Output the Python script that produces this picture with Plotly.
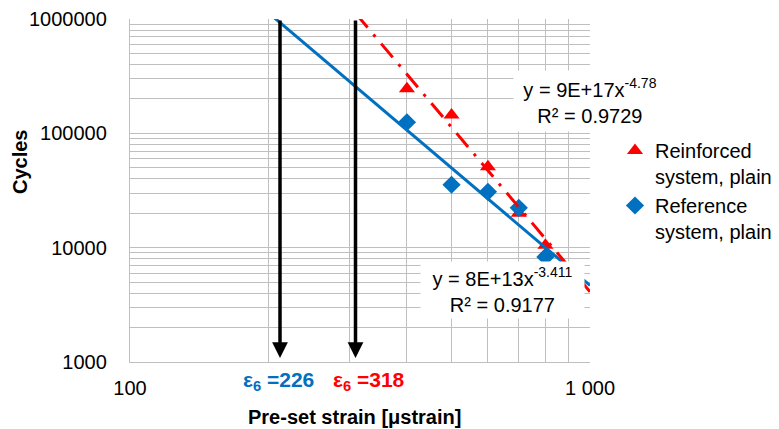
import math
import plotly.graph_objects as go

# ---- data ----
strain = [400, 500, 600, 700, 800]
cycles_reinforced = [245000, 145000, 51000, 20000, 10500]
cycles_reference = [125000, 35500, 30800, 22300, 8300]

fit_reinforced_coef, fit_reinforced_exp = 9e17, -4.78
fit_reference_coef, fit_reference_exp = 8e13, -3.411
r2_reinforced = "0.9729"
r2_reference = "0.9177"
eps6_reference = 226
eps6_reinforced = 318

series_names = ["Reinforced<br>system, plain", "Reference<br>system, plain"]

x_tickvals = [100, 200, 300, 400, 500, 600, 700, 800, 900, 1000]
x_ticktext = ["100", "", "", "", "", "", "", "", "", "1 000"]
y_tickvals = [m * 10 ** e for e in (3, 4, 5) for m in range(1, 10)] + [1000000]
y_ticktext = [(str(v) if str(v).strip("0") == "1" else "") for v in y_tickvals]

RED = "#FF0000"
BLUE = "#0070C0"
GRID = "#BFBFBF"
FONT = "Liberation Sans, Arial, sans-serif"

fit_x = [100, 1000]
fit_red = [fit_reinforced_coef * x ** fit_reinforced_exp for x in fit_x]
fit_blue = [fit_reference_coef * x ** fit_reference_exp for x in fit_x]

fig = go.Figure()
fig.add_trace(go.Scatter(x=strain, y=cycles_reinforced, mode="markers",
                         name=series_names[0],
                         marker=dict(symbol="triangle-up", size=14, color=RED)))
fig.add_trace(go.Scatter(x=strain, y=cycles_reference, mode="markers",
                         name=series_names[1],
                         marker=dict(symbol="diamond", size=14, color=BLUE)))
fig.add_trace(go.Scatter(x=fit_x, y=fit_blue, mode="lines", showlegend=False,
                         line=dict(color=BLUE, width=3)))
fig.add_trace(go.Scatter(x=fit_x, y=fit_red, mode="lines", showlegend=False,
                         line=dict(color=RED, width=3, dash="18px,9px,3px,9px")))

# page is 779x429 but the html body has an 8px margin: compensate
OFF = 8
W, H = 779 - OFF, 429 - OFF
L, T = 130 - OFF, 19 - OFF
pw, ph = 460, 343
R, B = W - L - pw, H - T - ph


def px(xp):  # page pixel -> paper x
    return (xp - OFF - L) / pw


def py(yp):  # page pixel -> paper y
    return (H - B - (yp - OFF)) / ph


def note(x, y, text, **kw):
    d = dict(xref="paper", yref="paper", x=px(x), y=py(y), text=text,
             showarrow=False, xanchor="center", yanchor="middle")
    d.update(kw)
    return d


annotations = []
# arrows
for xp in (280, 355.5):
    annotations.append(dict(xref="paper", yref="paper", axref="pixel", ayref="pixel",
                            x=px(xp), y=py(358), ax=0, ay=-(358 - 19),
                            text="", showarrow=True, arrowhead=2, arrowsize=0.9,
                            arrowwidth=3.5, arrowcolor="black", standoff=0))
# epsilon labels
annotations.append(note(278, 381, f"<b>ε<sub>6</sub> ={eps6_reference}</b>",
                        font=dict(family=FONT, size=21, color=BLUE)))
annotations.append(note(369, 381, f"<b>ε<sub>6</sub> ={eps6_reinforced}</b>",
                        font=dict(family=FONT, size=21, color=RED)))
# trendline equations
annotations.append(note(590, 101,
                        f"y = 9E+17x<sup>{fit_reinforced_exp}</sup><br>R² = {r2_reinforced}",
                        bgcolor="white", width=150, height=58, align="center",
                        font=dict(family=FONT, size=20, color="black")))
annotations.append(note(502.5, 290,
                        f"y = 8E+13x<sup>{fit_reference_exp}</sup><br>R² = {r2_reference}",
                        bgcolor="white", width=161, height=54, align="center",
                        font=dict(family=FONT, size=20, color="black")))
# axis titles
annotations.append(note(354, 417, "<b>Pre-set strain [μstrain]</b>",
                        font=dict(family=FONT, size=20, color="black")))
annotations.append(note(20, 162, "<b>Cycles</b>", textangle=-90,
                        font=dict(family=FONT, size=20, color="black")))

fig.update_layout(
    width=W, height=H,
    margin=dict(l=L, r=R, t=T, b=B, pad=0, autoexpand=False),
    paper_bgcolor="white", plot_bgcolor="white",
    font=dict(family=FONT, size=20, color="black"),
    showlegend=True,
    legend=dict(x=px(615), y=py(131), xanchor="left", yanchor="top",
                valign="top", bgcolor="rgba(0,0,0,0)", tracegroupgap=4,
                font=dict(family=FONT, size=20, color="black")),
    annotations=annotations,
)
fig.update_xaxes(type="log", range=[2, 3], tickvals=x_tickvals, ticktext=x_ticktext,
                 showgrid=True, gridcolor=GRID, gridwidth=1.3, zeroline=False,
                 showline=True, linecolor=GRID, linewidth=1.3, ticks="",
                 ticklabelstandoff=8, tickfont=dict(family=FONT, size=20, color="black"))
fig.update_yaxes(type="log", range=[3, 6], tickvals=y_tickvals, ticktext=y_ticktext,
                 showgrid=True, gridcolor=GRID, gridwidth=1.3, zeroline=False,
                 showline=True, linecolor=GRID, linewidth=1.3, ticks="",
                 ticklabelstandoff=18, tickfont=dict(family=FONT, size=20, color="black"))

fig.write_html("out.html")
